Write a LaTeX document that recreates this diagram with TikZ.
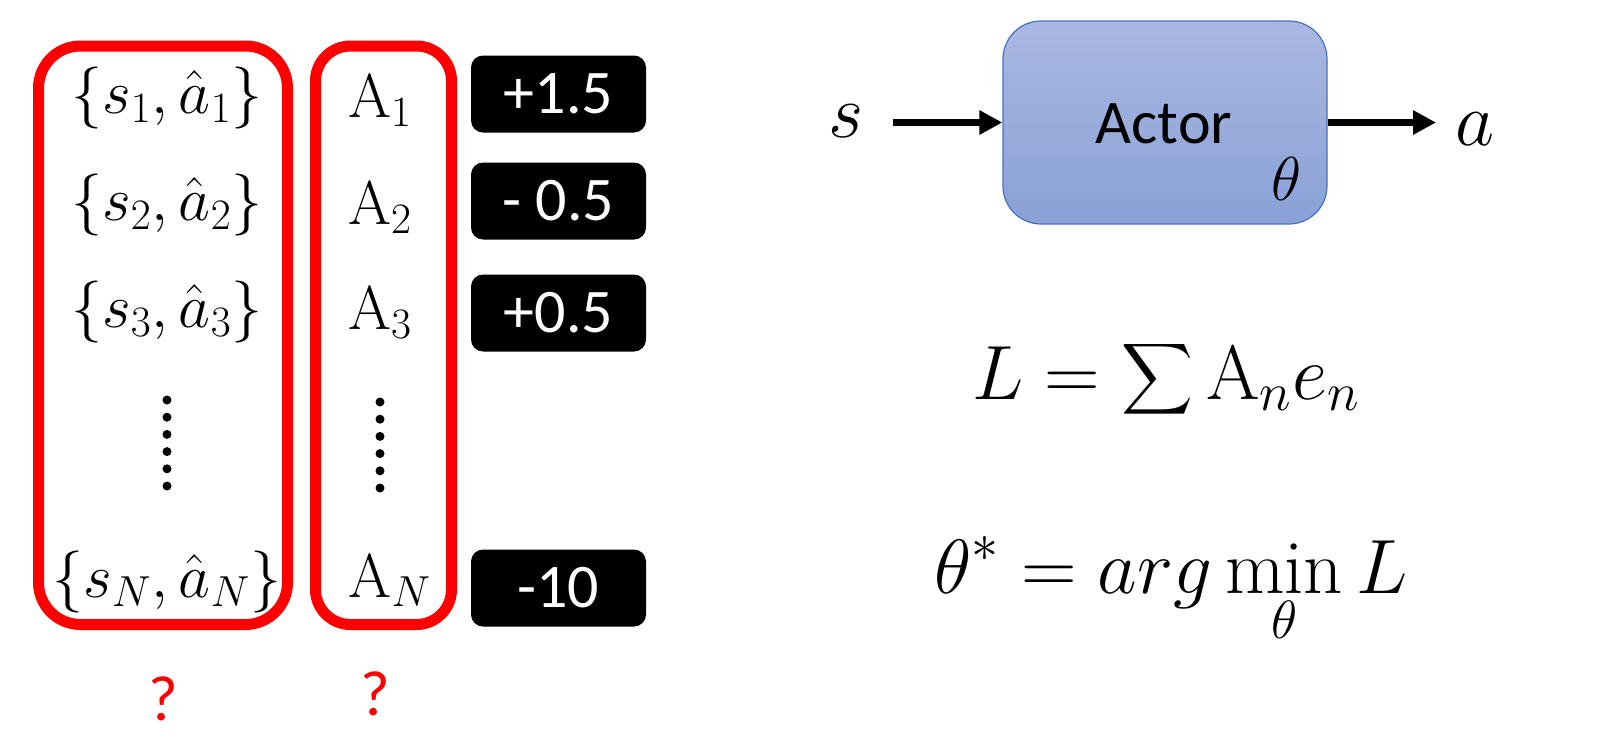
\RequirePackage{fix-cm}
\documentclass[tikz,border=0pt]{standalone}
\usepackage{amsmath}
\usepackage{fontspec}
\newfontfamily\calibri{Carlito}
\usetikzlibrary{arrows.meta}
\definecolor{actTop}{HTML}{A9B8E1}
\definecolor{actBot}{HTML}{8AA1D7}
\definecolor{actLine}{HTML}{4472C4}
\tikzset{
 redbox/.style={draw=red, line width=5.5pt, rounded corners=21pt, inner sep=0pt},
 blackbox/.style={fill=black, rounded corners=6pt, minimum width=87.5pt, minimum height=38.5pt, inner sep=0pt, text=white, font=\calibri\fontsize{31pt}{36pt}\selectfont, text height=19.5pt, text depth=0pt},
 item/.style={anchor=base, inner sep=0pt, font=\fontsize{31pt}{36pt}\selectfont},
 arr/.style={line width=3.5pt, -{Triangle[length=11.5pt,width=11.5pt]}},
 dotmark/.style={circle, fill=black, minimum size=4.5pt, inner sep=0pt},
 qmark/.style={anchor=base, inner sep=0pt, text=red, font=\calibri\fontsize{32pt}{36pt}\selectfont},
 mathlbl/.style={anchor=base, inner sep=0pt},
}
\begin{document}
\begin{tikzpicture}[x=0.5pt,y=-0.5pt]
\useasboundingbox (0,0) rectangle (1618,740);
% red boxes
\node[redbox, minimum width=124.5pt, minimum height=289.25pt] (boxL) at (163,335.25) {};
\node[redbox, rounded corners=17.5pt, minimum width=68pt, minimum height=289.25pt] (boxA) at (383.5,335.25) {};
% left column
\node[item] (p1) at (167,113) {$\{s_1,\hat{a}_1\}$};
\node[item] (p2) at (167,220) {$\{s_2,\hat{a}_2\}$};
\node[item] (p3) at (167,327) {$\{s_3,\hat{a}_3\}$};
\node[item] (pN) at (167,597) {$\{s_N,\hat{a}_N\}$};
% middle column
\node[item] (a1) at (380,117) {$\mathrm{A}_1$};
\node[item] (a2) at (380,224) {$\mathrm{A}_2$};
\node[item] (a3) at (380,329) {$\mathrm{A}_3$};
\node[item] (aN) at (390,597) {$\mathrm{A}_N$};
% dots
\foreach \k in {0,...,5} {
  \node[dotmark] (dl\k) at (167,400+17.2*\k) {};
  \node[dotmark] (dm\k) at (380,402+17.2*\k) {};
}
% black boxes
\node[blackbox] (b1) at (558.5,94) {+1.5};
\node[blackbox] (b2) at (558.5,201) {- 0.5};
\node[blackbox] (b3) at (558.5,313) {+0.5};
\node[blackbox] (bN) at (558.5,588) {-10};
% question marks
\node[qmark] (q1) at (163.5,720) {?};
\node[qmark] (q2) at (375,715) {?};
% actor
\node[draw=actLine, line width=0.6pt, top color=actTop, bottom color=actBot, rounded corners=19pt, minimum width=162pt, minimum height=101.5pt] (actor) at (1165,122.5) {};
\node[anchor=base, inner sep=0pt, font=\calibri\fontsize{31pt}{36pt}\selectfont] (actorlbl) at (1164,143) {Actor};
\node[mathlbl, font=\fontsize{31pt}{36pt}\selectfont] (theta) at (1286,200) {$\theta$};
\node[mathlbl, font=\fontsize{38pt}{44pt}\selectfont] (s) at (846,137) {$s$};
\node[mathlbl, font=\fontsize{38pt}{44pt}\selectfont] (a) at (1475,145) {$a$};
\draw[arr, shorten <=14.5pt] (s.east |- actor.west) -- (actor.west);
\draw[arr, shorten >=9.5pt] (actor.east) -- (a.west |- actor.east);
% equations
\node[mathlbl, font=\fontsize{38.5pt}{44pt}\selectfont] (eq1) at (1166,399) {$\displaystyle L=\sum\mathrm{A}_n e_n$};
\node[mathlbl, font=\fontsize{38.5pt}{44pt}\selectfont] (eq2) at (1171,593) {$\displaystyle \theta^*=arg\min_\theta L$};
\end{tikzpicture}
\end{document}
